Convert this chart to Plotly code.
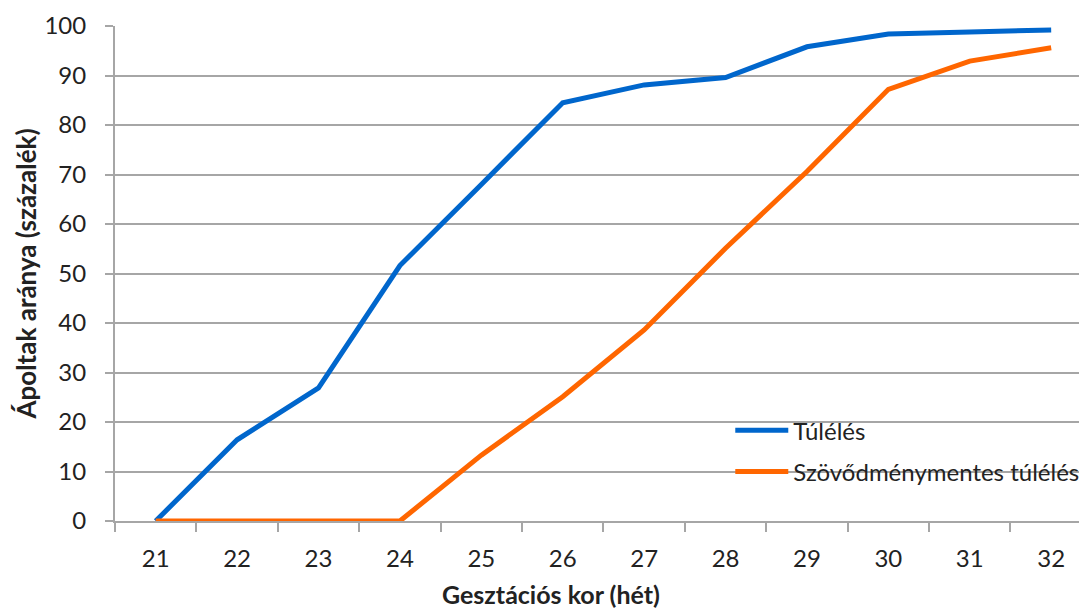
import plotly.graph_objects as go

weeks = [21, 22, 23, 24, 25, 26, 27, 28, 29, 30, 31, 32]
week_labels = ["21", "22", "23", "24", "25", "26", "27", "28", "29", "30", "31", "32"]
survival = [0, 16.4, 26.9, 51.6, 68.0, 84.5, 88.1, 89.6, 95.8, 98.4, 98.8, 99.2]
survival_no_compl = [0, 0, 0, 0, 13.3, 25.1, 38.6, 55.1, 70.6, 87.2, 92.9, 95.6]
y_ticks = [0, 10, 20, 30, 40, 50, 60, 70, 80, 90, 100]

FONT = "Lato"
TXT = "#222222"
GRID = "#A6A6A6"

fig = go.Figure()
fig.add_trace(go.Scatter(x=weeks, y=survival, mode="lines", name="Túlélés",
                         legendgroup="a",
                         line=dict(color="#0066CC", width=5), cliponaxis=False))
fig.add_trace(go.Scatter(x=weeks, y=survival_no_compl, mode="lines",
                         name="Szövődménymentes túlélés", legendgroup="b",
                         line=dict(color="#FF6600", width=5), cliponaxis=False))

fig.update_layout(
    width=1079, height=604,
    margin=dict(l=107, r=0, t=18, b=91, autoexpand=False),
    plot_bgcolor="white", paper_bgcolor="white",
    font=dict(family=FONT, size=24, color=TXT),
    showlegend=True,
    legend=dict(x=0.633, y=0.228, xanchor="left", yanchor="top",
                bgcolor="rgba(0,0,0,0)", font=dict(family=FONT, size=24, color=TXT),
                itemwidth=53, tracegroupgap=7),
    annotations=[dict(text="<b>Gesztációs kor (hét)</b>", xref="paper", yref="paper",
                      x=0.4486, y=-0.147, xanchor="center", yanchor="middle",
                      showarrow=False, font=dict(family=FONT, size=25, color=TXT))],
)

fig.update_xaxes(
    automargin=False,
    range=[20.5, 32.44],
    tickmode="array", tickvals=weeks, ticktext=week_labels,
    ticks="outside", ticklen=9, tickcolor="rgba(0,0,0,0)",
    ticklabelstandoff=6,
    tickfont=dict(family=FONT, size=24, color=TXT),
    showgrid=False, zeroline=False,
    showline=True, linecolor=GRID, linewidth=2,
    minor=dict(tickmode="linear", tick0=20.5, dtick=1, ticks="outside",
               ticklen=9, tickwidth=2, tickcolor=GRID, showgrid=False),
)

fig.update_yaxes(
    automargin=False,
    range=[0, 100],
    tickmode="array", tickvals=y_ticks,
    ticks="outside", ticklen=8, tickwidth=2, tickcolor=GRID,
    ticklabelstandoff=14,
    tickfont=dict(family=FONT, size=24, color=TXT),
    showgrid=True, gridcolor=GRID, gridwidth=2,
    zeroline=False,
    showline=True, linecolor=GRID, linewidth=2,
    title=dict(text="<b>Ápoltak aránya (százalék)</b>", standoff=0,
               font=dict(family=FONT, size=26, color=TXT)),
)

fig.write_html("out.html")
